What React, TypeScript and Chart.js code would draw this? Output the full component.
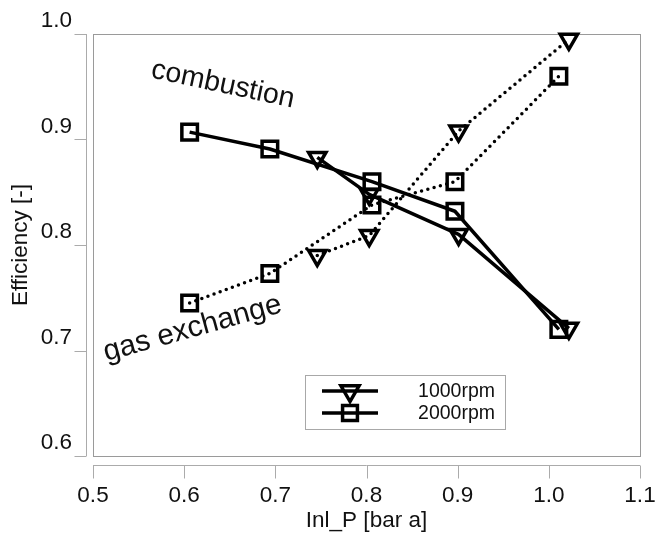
import React, { useEffect, useRef } from 'react';
import { Chart, registerables } from 'chart.js';

Chart.register(...registerables);

// Inlet pressure [bar a] per engine speed
const inletPressure1000 = [0.746, 0.803, 0.901, 1.022];
const inletPressure2000 = [0.606, 0.694, 0.806, 0.897, 1.011];

// Combustion efficiency [-]
const combustion1000 = [0.883, 0.848, 0.810, 0.721];
const combustion2000 = [0.907, 0.891, 0.860, 0.832, 0.720];

// Gas exchange efficiency [-]
const gasExchange1000 = [0.790, 0.809, 0.908, 0.995];
const gasExchange2000 = [0.745, 0.773, 0.838, 0.860, 0.960];

const rpmLabels = ['1000rpm', '2000rpm'];
const xTicks = [0.5, 0.6, 0.7, 0.8, 0.9, 1.0, 1.1];
const yTicks = [0.6, 0.7, 0.8, 0.9, 1.0];

const FONT = "'Liberation Sans', Arial, sans-serif";
const INK = '#111111';

const toPoints = (xs: number[], ys: number[]) => xs.map((x, i) => ({ x, y: ys[i] }));

function drawMarker(ctx: CanvasRenderingContext2D, style: string, cx: number, cy: number, r: number) {
  ctx.beginPath();
  if (style === 'triangle') {
    ctx.moveTo(cx, cy + r);
    ctx.lineTo(cx - 0.866 * r, cy - 0.5 * r);
    ctx.lineTo(cx + 0.866 * r, cy - 0.5 * r);
    ctx.closePath();
  } else {
    const h = Math.SQRT1_2 * r;
    ctx.rect(cx - h, cy - h, 2 * h, 2 * h);
  }
  ctx.stroke();
}

// Frame around the plot plus axes set off from it
const offsetAxesPlugin = {
  id: 'offsetAxes',
  beforeDraw(chart: any) {
    const { ctx, chartArea: a, scales } = chart;
    ctx.save();
    ctx.fillStyle = '#ffffff';
    ctx.fillRect(0, 0, chart.width, chart.height);

    ctx.strokeStyle = '#9a9a9a';
    ctx.lineWidth = 1;
    ctx.strokeRect(a.left + 0.5, a.top + 0.5, a.right - a.left, a.bottom - a.top);

    ctx.strokeStyle = '#ababab';
    ctx.beginPath();
    const yx = a.left - 7 + 0.5;
    ctx.moveTo(yx, scales.y.getPixelForValue(yTicks[yTicks.length - 1]));
    ctx.lineTo(yx, scales.y.getPixelForValue(yTicks[0]));
    yTicks.forEach((v) => {
      const py = Math.round(scales.y.getPixelForValue(v)) + 0.5;
      ctx.moveTo(yx - 12, py);
      ctx.lineTo(yx, py);
    });
    const xy = a.bottom + 9 + 0.5;
    ctx.moveTo(scales.x.getPixelForValue(xTicks[0]), xy);
    ctx.lineTo(scales.x.getPixelForValue(xTicks[xTicks.length - 1]), xy);
    xTicks.forEach((v) => {
      const px = Math.round(scales.x.getPixelForValue(v)) + 0.5;
      ctx.moveTo(px, xy);
      ctx.lineTo(px, xy + 13);
    });
    ctx.stroke();
    ctx.restore();
  },
  afterDatasetsDraw(chart: any) {
    const { ctx, scales } = chart;
    ctx.save();
    ctx.fillStyle = INK;
    ctx.textAlign = 'left';
    ctx.textBaseline = 'alphabetic';

    ctx.save();
    ctx.font = `28.5px ${FONT}`;
    ctx.translate(scales.x.getPixelForValue(0.5625), scales.y.getPixelForValue(0.959));
    ctx.rotate((12 * Math.PI) / 180);
    ctx.fillText('combustion', 0, 0);
    ctx.restore();

    ctx.save();
    ctx.font = `29.5px ${FONT}`;
    ctx.translate(scales.x.getPixelForValue(0.5145), scales.y.getPixelForValue(0.690));
    ctx.rotate((-15.5 * Math.PI) / 180);
    ctx.fillText('gas exchange', 0, 0);
    ctx.restore();

    // legend box
    ctx.strokeStyle = '#a8a8a8';
    ctx.lineWidth = 1;
    ctx.strokeRect(305.5, 375.5, 200, 54);
    const styles = ['triangle', 'rect'];
    rpmLabels.forEach((label, i) => {
      const ly = 391 + i * 22;
      ctx.strokeStyle = '#000';
      ctx.lineWidth = 3.5;
      ctx.beginPath();
      ctx.moveTo(322, ly);
      ctx.lineTo(378, ly);
      ctx.stroke();
      ctx.lineJoin = 'miter';
      drawMarker(ctx, styles[i], 350, ly, 10.5);
      ctx.fillStyle = INK;
      ctx.font = `19.5px ${FONT}`;
      ctx.textAlign = 'right';
      ctx.textBaseline = 'middle';
      ctx.fillText(label, 495, ly + 1);
    });
    ctx.restore();
  },
};

export default function App() {
  const canvasRef = useRef<HTMLCanvasElement | null>(null);

  useEffect(() => {
    if (!canvasRef.current) return;
    const common = {
      borderColor: '#000',
      pointBorderColor: '#000',
      pointBackgroundColor: 'rgba(0,0,0,0)',
      pointBorderWidth: 3.5,
      showLine: true,
      clip: false as const,
      borderJoinStyle: 'round' as const,
    };
    const solid = { borderWidth: 3.5 };
    const dotted = { borderWidth: 3.5, borderDash: [0, 6.5], borderCapStyle: 'round' as const };
    const tri = { pointStyle: 'triangle', pointRotation: 180, pointRadius: 10, pointHoverRadius: 10 };
    const sq = { pointStyle: 'rect', pointRadius: 11, pointHoverRadius: 11 };

    const chart = new Chart(canvasRef.current, {
      type: 'scatter',
      data: {
        datasets: [
          { label: `combustion ${rpmLabels[1]}`, data: toPoints(inletPressure2000, combustion2000), ...common, ...solid, ...sq },
          { label: `combustion ${rpmLabels[0]}`, data: toPoints(inletPressure1000, combustion1000), ...common, ...solid, ...tri },
          { label: `gas exchange ${rpmLabels[1]}`, data: toPoints(inletPressure2000, gasExchange2000), ...common, ...dotted, ...sq },
          { label: `gas exchange ${rpmLabels[0]}`, data: toPoints(inletPressure1000, gasExchange1000), ...common, ...dotted, ...tri },
        ] as any,
      },
      options: {
        animation: false,
        responsive: false,
        events: [],
        layout: { padding: { top: 34, right: 16, left: 0, bottom: 0 } },
        plugins: { legend: { display: false }, tooltip: { enabled: false } },
        scales: {
          x: {
            type: 'linear',
            min: xTicks[0],
            max: xTicks[xTicks.length - 1],
            grid: { display: false, drawTicks: false },
            border: { display: false },
            afterBuildTicks: (s: any) => { s.ticks = xTicks.map((value) => ({ value })); },
            afterFit: (s: any) => { s.height = 80; s.paddingLeft = 0; s.paddingRight = 0; },
            ticks: {
              padding: 26,
              color: INK,
              font: { family: FONT, size: 22.5 },
              callback: (v: any) => Number(v).toFixed(1),
            },
            title: {
              display: true,
              text: 'Inl_P [bar a]',
              color: INK,
              font: { family: FONT, size: 22.5 },
              padding: { top: 0, bottom: 2 },
            },
          },
          y: {
            type: 'linear',
            min: yTicks[0],
            max: yTicks[yTicks.length - 1],
            grid: { display: false, drawTicks: false },
            border: { display: false },
            afterBuildTicks: (s: any) => { s.ticks = yTicks.map((value) => ({ value })); },
            afterFit: (s: any) => { s.width = 93; s.paddingTop = 0; s.paddingBottom = 0; },
            ticks: {
              padding: 21,
              labelOffset: -13,
              color: INK,
              font: { family: FONT, size: 22.5 },
              callback: (v: any) => Number(v).toFixed(1),
            },
            title: {
              display: true,
              text: 'Efficiency [-]',
              color: INK,
              font: { family: FONT, size: 22.5 },
              padding: { top: 7, bottom: 0 },
            },
          },
        },
      },
      plugins: [offsetAxesPlugin],
    } as any);
    return () => chart.destroy();
  }, []);

  return (
    <div style={{ position: 'absolute', left: 0, top: 0, width: 656, height: 536, background: '#fff' }}>
      <canvas ref={canvasRef} width={656} height={536} style={{ display: 'block' }} />
    </div>
  );
}
